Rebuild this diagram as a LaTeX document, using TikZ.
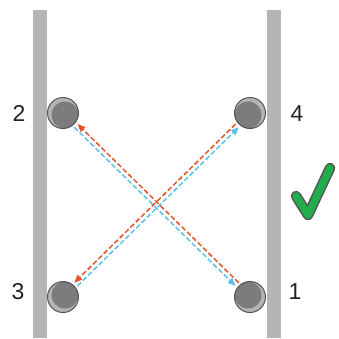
\documentclass[tikz,border=0pt]{standalone}
\usepackage{fontspec}
\setmainfont{Liberation Sans}
\usepackage{tikz}
\usetikzlibrary{arrows.meta,calc}
\definecolor{RLBar}{HTML}{B5B5B5}
\definecolor{RLRim}{HTML}{555555}
\definecolor{RLLight}{HTML}{B4B4B4}
\definecolor{RLDark}{HTML}{7C7C7C}
\definecolor{RLRed}{HTML}{E2552C}
\definecolor{RLBlue}{HTML}{5EBFE8}
\definecolor{RLGreen}{HTML}{22AD4C}
\definecolor{RLInk}{HTML}{222222}
\tikzset{
  rail/.style={fill=RLBar,draw=none},
  roller/.style={circle,minimum size=31pt,inner sep=0pt,draw=RLRim,line width=1pt,fill=RLLight,
                 path picture={\fill[RLDark] ($(path picture bounding box.center)+(#1)$) circle (13.5pt);}},
  ray/.style={dashed,dash pattern=on 5pt off 2.5pt,line width=1.5pt,shorten >=2pt,shorten <=2pt,
              -{Triangle[length=8pt,width=6.5pt]}},
  rayred/.style={ray,RLRed},
  rayblue/.style={ray,RLBlue},
  num/.style={text=RLInk,font=\fontsize{23}{26}\selectfont,inner sep=0pt},
}
\begin{document}
\begin{tikzpicture}[x=1pt,y=1pt]
  \useasboundingbox (0,0) rectangle (339,338);
  % rails
  \fill[rail] (33,0) rectangle (47,328);
  \fill[rail] (267,0) rectangle (281,328);

  % rollers
  \node[roller={2,-2}] (r2) at (63,225) {};
  \node[roller={-2,-2}] (r4) at (250,225) {};
  \node[roller={2,2}] (r3) at (63,41) {};
  \node[roller={-2,2}] (r1) at (250,41) {};

  \node[num] (l2) at (19,224.5) {2};
  \node[num] (l4) at (297,224.5) {4};
  \node[num] (l3) at (18,46) {3};
  \node[num] (l1) at (295,46) {1};

  % crossing rays
  \draw[rayblue,transform canvas={shift={(-1.6,-1.6)}}] (r2) -- (r1);
  \draw[rayred,transform canvas={shift={(1.6,1.6)}}] (r1) -- (r2);
  \draw[rayblue,transform canvas={shift={(1.6,-1.6)}}] (r3) -- (r4);
  \draw[rayred,transform canvas={shift={(-1.6,1.6)}}] (r4) -- (r3);

  % check mark
  \draw[RLRim,line width=10.5pt,line cap=round,line join=round] (296,142) -- (308,123) -- (330,170);
  \draw[RLGreen,line width=7.5pt,line cap=round,line join=round] (296,142) -- (308,123) -- (330,170);
\end{tikzpicture}
\end{document}
